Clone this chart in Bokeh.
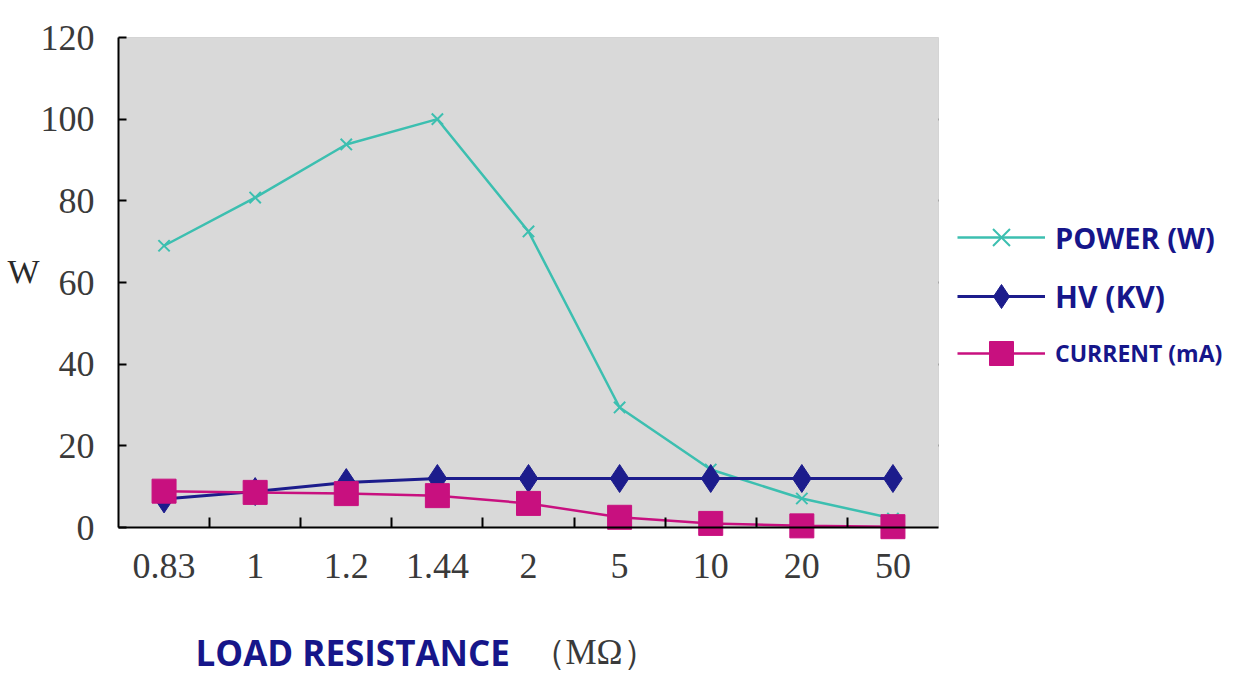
from bokeh.plotting import figure
from bokeh.models import (Range1d, FixedTicker, Legend, LegendItem, Label,
                          BoxAnnotation, LinearAxis)
from bokeh.embed import file_html
from bokeh.resources import INLINE

resistance = ["0.83", "1", "1.2", "1.44", "2", "5", "10", "20", "50"]
power_w = [69, 80.8, 93.8, 100, 72.5, 29.4, 14.2, 7.1, 2.2]
hv_kv = [7, 8.8, 11, 12, 12, 12, 12, 12, 12]
current_ma = [8.9, 8.6, 8.3, 7.8, 5.9, 2.5, 1.0, 0.4, 0.2]
y_ticks = [0, 20, 40, 60, 80, 100, 120]
series_names = ["POWER (W)", "HV (KV)", "CURRENT (mA)"]
x_title = "LOAD RESISTANCE"
x_unit = "（MΩ）"
y_title = "W"

POWER_C = "#3cbfb0"
HV_C = "#1c1c8c"
CUR_C = "#c8107f"
NAVY = "#16168a"
SERIF = "Liberation Serif"

# layout constants (pixels)
W, H = 1229, 674
LEFT, TOP = 118, 37
PLOT_W, PLOT_H = 820, 490

n = len(resistance)
xs = list(range(n))
y_lo, y_hi = y_ticks[0], y_ticks[-1]
x_start = -0.5 - n * LEFT / PLOT_W
x_end = -0.5 + n * (W - LEFT) / PLOT_W
y_start = y_hi - (y_hi - y_lo) * (H - TOP) / PLOT_H
y_end = y_hi + (y_hi - y_lo) * TOP / PLOT_H

p = figure(width=W, height=H, output_backend="svg", toolbar_location=None,
           x_range=Range1d(x_start, x_end), y_range=Range1d(y_start, y_end),
           x_axis_location=None, y_axis_location=None, min_border=0)
p.background_fill_color = "white"
p.border_fill_color = "white"
p.outline_line_color = None

# plot area
p.add_layout(BoxAnnotation(left=-0.5, right=n - 0.5, bottom=y_lo, top=y_hi,
                           fill_color="#d9d9d9", fill_alpha=1,
                           line_color="#9a9a9a", line_width=1, level="underlay"))

# x axis fixed at y=0
xaxis = LinearAxis(fixed_location=y_lo, bounds=(-0.5, n - 0.5))
xaxis.ticker = FixedTicker(ticks=xs, minor_ticks=[i + 0.5 for i in xs[:-1]])
xaxis.major_label_overrides = {i: s for i, s in enumerate(resistance)}
xaxis.major_tick_in = 0
xaxis.major_tick_out = 0
xaxis.minor_tick_in = 10
xaxis.minor_tick_out = 0
xaxis.minor_tick_line_color = "black"
xaxis.minor_tick_line_width = 2
xaxis.axis_line_color = "black"
xaxis.axis_line_width = 2
xaxis.major_label_text_font = SERIF
xaxis.major_label_text_font_size = "36px"
xaxis.major_label_text_color = "#3a3a3a"
xaxis.major_label_standoff = 26
p.add_layout(xaxis, "below")

# y axis fixed at the left edge of the plot area
yaxis = LinearAxis(fixed_location=-0.5, bounds=(y_lo, y_hi))
yaxis.ticker = FixedTicker(ticks=y_ticks)
yaxis.minor_tick_line_color = None
yaxis.major_tick_in = 8
yaxis.major_tick_out = 0
yaxis.major_tick_line_width = 2
yaxis.major_tick_line_color = "black"
yaxis.axis_line_color = "black"
yaxis.axis_line_width = 2
yaxis.major_label_text_font = SERIF
yaxis.major_label_text_font_size = "36px"
yaxis.major_label_text_color = "#3a3a3a"
yaxis.major_label_standoff = 24
p.add_layout(yaxis, "left")

p.xgrid.grid_line_color = None
p.ygrid.ticker = FixedTicker(ticks=y_ticks[1:-1])
p.ygrid.grid_line_color = "black"
p.ygrid.grid_line_width = 2
p.ygrid.cross_bounds = (-0.5, n - 0.5)

# series
pw_l = p.line(xs, power_w, line_color=POWER_C, line_width=2.5)
pw_m = p.scatter(xs, power_w, marker="x", size=16, line_color=POWER_C, line_width=2)
hv_l = p.line(xs, hv_kv, line_color=HV_C, line_width=3)
hv_m = p.scatter(xs, hv_kv, marker="diamond", size=28, fill_color=HV_C, line_color=HV_C)
cu_l = p.line(xs, current_ma, line_color=CUR_C, line_width=2.5)
cu_m = p.scatter(xs, current_ma, marker="square", size=24, fill_color=CUR_C, line_color=CUR_C)

# legends (one per series, so each label can keep its own size)
GH = 60
def add_legend(label, rends, center_y, size):
    lg = Legend(items=[LegendItem(label=label, renderers=rends)],
                location=(957, H - (center_y + GH // 2)),
                orientation="vertical", glyph_width=88, glyph_height=GH,
                label_standoff=10, padding=0, margin=0, border_line_color=None,
                background_fill_alpha=0, label_height=GH,
                label_text_font="Open Sans", label_text_font_style="bold",
                label_text_font_size=size, label_text_color=NAVY)
    p.add_layout(lg, "center")

add_legend(series_names[0], [pw_l, pw_m], 237, "29px")
add_legend(series_names[1], [hv_l, hv_m], 296, "30px")
add_legend(series_names[2], [cu_l, cu_m], 353, "23px")

# axis titles
p.add_layout(Label(x=23, y=H - 271, x_units="screen", y_units="screen",
                   text=y_title, text_font=SERIF, text_font_size="34px",
                   text_color="#2a2a2a", text_align="center",
                   text_baseline="middle"))
p.add_layout(Label(x=195, y=H - 652, x_units="screen", y_units="screen",
                   text=x_title, text_font="Open Sans", text_font_style="bold",
                   text_font_size="35px", text_color=NAVY,
                   text_align="left", text_baseline="middle"))
p.add_layout(Label(x=530, y=H - 652, x_units="screen", y_units="screen",
                   text=x_unit, text_font=SERIF, text_font_size="35px",
                   text_color="#3a3a3a", text_align="left",
                   text_baseline="middle"))

open("out.html", "w").write(file_html(p, INLINE))
